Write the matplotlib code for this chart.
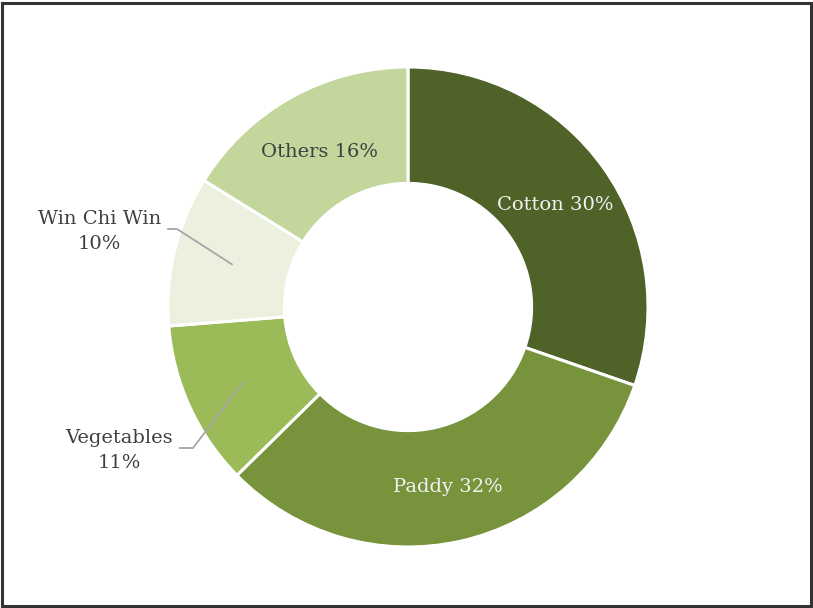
import matplotlib.pyplot as plt
import numpy as np
from matplotlib.patches import Rectangle

# данные
crops = ['Cotton', 'Paddy', 'Vegetables', 'Win Chi Win', 'Others']
shares = [30, 32, 11, 10, 16]
colors = ['#4F6228', '#77933C', '#9BBB59', '#EBF1DE', '#C3D69B']
text_colors = ['#F2F2F2', '#F2F2F2', '#404040', '#404040', '#404040']
inside = [True, True, False, False, True]

plt.rcParams['font.family'] = ['DejaVu Serif']

fig = plt.figure(figsize=(8.13, 6.08), dpi=100)
W, H = 813, 608
cx, cy, R = 408, 301, 240
ax = fig.add_axes([(cx - R) / W, (cy - R) / H, 2 * R / W, 2 * R / H])

wedges, _ = ax.pie(shares, colors=colors, startangle=90, counterclock=False,
                   radius=1, wedgeprops=dict(width=0.485, edgecolor='white', linewidth=2.2))
ax.set_xlim(-1, 1)
ax.set_ylim(-1, 1)
ax.set_aspect('equal')
ax.axis('off')

fs = 14
# подписи
for w, name, val, tc, ins in zip(wedges, crops, shares, text_colors, inside):
    ang = np.deg2rad((w.theta1 + w.theta2) / 2)
    r = 0.755
    x, y = r * np.cos(ang), r * np.sin(ang)
    if ins:
        ax.text(x, y - 0.012, f'{name} {val}%', ha='center', va='center', fontsize=fs, color=tc)
    else:
        # выноска
        if y > 0:
            sx, ex, ey = -1.0, -0.9625, 0.325
        else:
            sx, ex, ey = -0.95, -0.896, -0.5875
        ax.plot([sx, ex, x], [ey, ey, y], color='#A6A6A6', lw=1.3, clip_on=False)
        ax.text(sx - 0.03, ey - 0.01, f'{name}\n{val}%', ha='right', va='center',
                multialignment='center', fontsize=fs, color=tc, linespacing=1.55)

# рамка
fig.patches.append(Rectangle((0.003, 0.003), 0.994, 0.992, transform=fig.transFigure,
                             fill=False, edgecolor='#333333', lw=2.2))

fig.savefig('out.png', dpi=100)
